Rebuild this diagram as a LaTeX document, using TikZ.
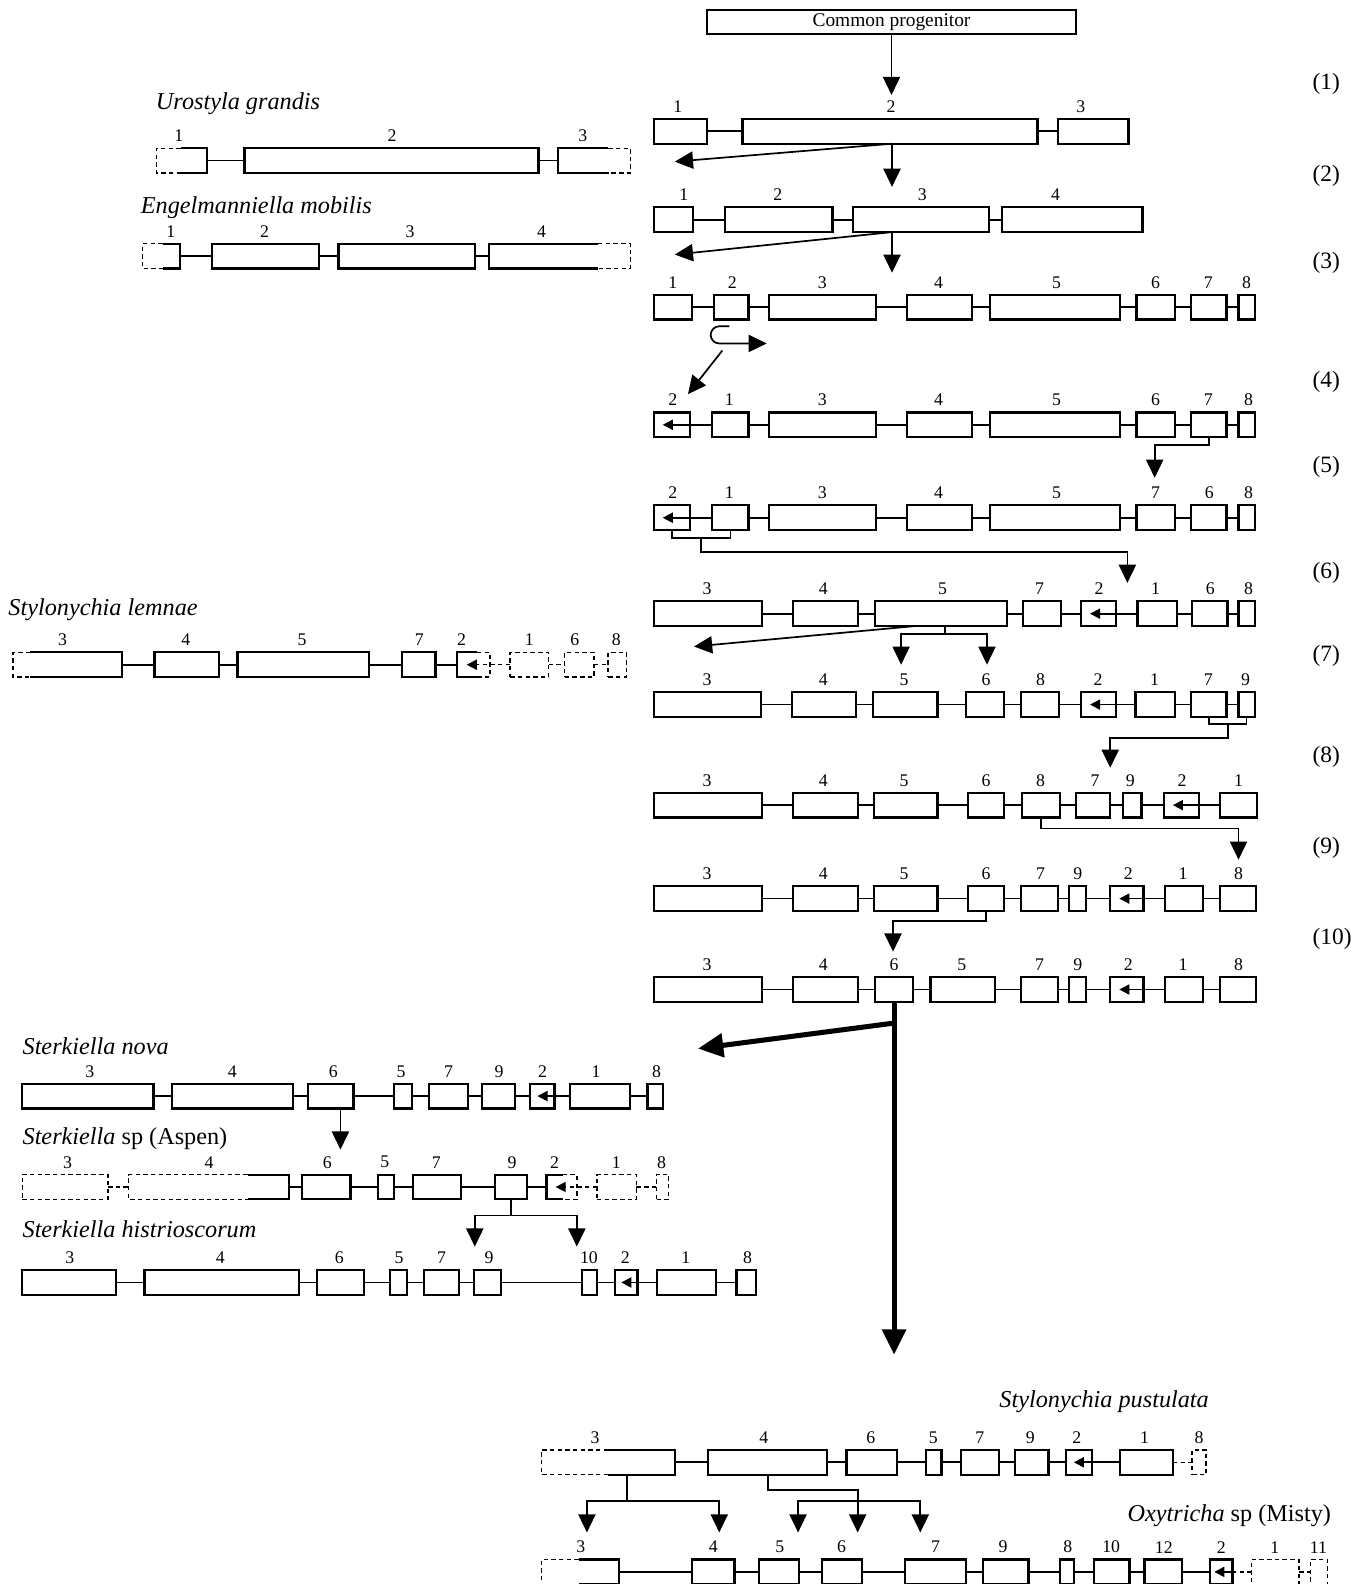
\documentclass[tikz,border=0pt]{standalone}
\usepackage{fontspec}
\setmainfont{Liberation Serif}
\usetikzlibrary{arrows.meta,calc}
\tikzset{
  gene/.style={draw, line width=1.1pt, minimum height=12.25pt, inner sep=0pt, outer sep=0pt},
  gbox/.style={minimum height=12.25pt, inner sep=0pt, outer sep=0pt},
  edge/.style={line width=1.1pt},
  dsh/.style={line width=0.7pt, dash pattern=on 2.2pt off 1.6pt},
  num/.style={font=\fontsize{8.8}{10}\selectfont, inner sep=0pt},
  conn/.style={line width=0.85pt},
  arr/.style={conn, -{Triangle[length=9pt,width=8.5pt]}},
  inarr/.style={conn, -{Triangle[length=5pt,width=5pt]}},
  tarr/.style={line width=2.5pt, -{Triangle[length=12.5pt,width=11.5pt]}},
  sp/.style={font=\fontsize{12}{14}\selectfont\itshape, inner sep=0pt},
  stp/.style={font=\fontsize{11.6}{14}\selectfont, inner sep=0pt, anchor=west},
}
\newcommand\GeneBox[6]{%
  \node[gene, minimum width={(#3-#2)*0.5pt}] (#1) at ({(#2+#3)/2},#4) {};
  \node[num] (#1-l) at (#5,{#4-24.5}) {#6};}
\newcommand\DashBox[6]{%
  \node[gene, dsh, minimum width={(#3-#2)*0.5pt}] (#1) at ({(#2+#3)/2},#4) {};
  \node[num] (#1-l) at (#5,{#4-24.5}) {#6};}
\newcommand\LeftDash[7]{%
  \node[gbox, minimum width={(#4-#2)*0.5pt}] (#1) at ({(#2+#4)/2},#5) {};
  \draw[dsh] (#3,{#5-12.25}) -- (#2,{#5-12.25}) -- (#2,{#5+12.25}) -- (#3,{#5+12.25});
  \draw[edge] (#3,{#5-12.25}) -- (#4,{#5-12.25}) -- (#4,{#5+12.25}) -- (#3,{#5+12.25});
  \node[num] (#1-l) at (#6,{#5-24.5}) {#7};}
\newcommand\RightDash[7]{%
  \node[gbox, minimum width={(#4-#2)*0.5pt}] (#1) at ({(#2+#4)/2},#5) {};
  \draw[edge] (#3,{#5-12.25}) -- (#2,{#5-12.25}) -- (#2,{#5+12.25}) -- (#3,{#5+12.25});
  \draw[dsh] (#3,{#5-12.25}) -- (#4,{#5-12.25}) -- (#4,{#5+12.25}) -- (#3,{#5+12.25});
  \node[num] (#1-l) at (#6,{#5-24.5}) {#7};}
\newcommand\Link[2]{\draw[conn] (#1.east) -- (#2.west);}
\newcommand\DLink[2]{\draw[conn,dsh] (#1.east) -- (#2.west);}
\newcommand\InvArrow[2]{\draw[inarr] (#2.west) -- ([xshift=4.5pt]#1.west);}
\begin{document}
\begin{tikzpicture}[x=0.5pt,y=-0.5pt]
\useasboundingbox (0,0) rectangle (1350,1568);

% common progenitor
\node[gene, line width=1pt, minimum width=182.5pt, minimum height=12pt, font=\fontsize{9.6}{11}\selectfont] (prog) at (882.5,22) {Common progenitor};

% step labels
\node[stp] (st1) at (1299,83) {(1)};
\node[stp] (st2) at (1299,174) {(2)};
\node[stp] (st3) at (1299,260) {(3)};
\node[stp] (st4) at (1299,378) {(4)};
\node[stp] (st5) at (1299,462) {(5)};
\node[stp] (st6) at (1299,567) {(6)};
\node[stp] (st7) at (1299,649) {(7)};
\node[stp] (st8) at (1299,749) {(8)};
\node[stp] (st9) at (1299,839) {(9)};
\node[stp] (st10) at (1299,929) {(10)};

% species labels
\node[sp, anchor=base west] (nU) at (154,108) {Urostyla grandis};
\node[sp, anchor=base west] (nE) at (139,211) {Engelmanniella mobilis};
\node[sp, anchor=base west] (nL) at (8,609) {Stylonychia lemnae};
\node[sp, anchor=base west] (nN) at (22,1044) {Sterkiella nova};
\node[sp, anchor=base west] (nA) at (22,1133) {Sterkiella\upshape\ sp (Aspen)};
\node[sp, anchor=base west] (nH) at (22,1225) {Sterkiella histrioscorum};
\node[sp, anchor=base east] (nP) at (1197,1393) {Stylonychia pustulata};
\node[sp, anchor=base east] (nM) at (1318,1506) {Oxytricha\upshape\ sp (Misty)};

% ---------- row 1
\GeneBox{a1}{647}{700}{130}{671}{1}
\GeneBox{a2}{735}{1027}{130}{882}{2}
\GeneBox{a3}{1047}{1117}{130}{1070}{3}
\Link{a1}{a2}\Link{a2}{a3}
% ---------- row 2
\GeneBox{b1}{647}{686}{217.5}{677}{1}
\GeneBox{b2}{718}{824}{217.5}{770}{2}
\GeneBox{b3}{844}{979}{217.5}{913}{3}
\GeneBox{b4}{992}{1131}{217.5}{1045}{4}
\Link{b1}{b2}\Link{b2}{b3}\Link{b3}{b4}
% ---------- row 3
\GeneBox{c1}{647}{685}{304}{666}{1}
\GeneBox{c2}{707}{741}{304}{725}{2}
\GeneBox{c3}{761}{867}{304}{814}{3}
\GeneBox{c4}{898}{962}{304}{929}{4}
\GeneBox{c5}{980}{1109}{304}{1046}{5}
\GeneBox{c6}{1125}{1163}{304}{1144}{6}
\GeneBox{c7}{1179}{1214}{304}{1196}{7}
\GeneBox{c8}{1226}{1242}{304}{1234}{8}
\Link{c1}{c2}\Link{c2}{c3}\Link{c3}{c4}\Link{c4}{c5}\Link{c5}{c6}\Link{c6}{c7}\Link{c7}{c8}
% ---------- row 4
\GeneBox{d2}{647}{683}{420.5}{666}{2}
\GeneBox{d1}{705}{741}{420.5}{722}{1}
\GeneBox{d3}{761}{867}{420.5}{814}{3}
\GeneBox{d4}{898}{962}{420.5}{929}{4}
\GeneBox{d5}{980}{1109}{420.5}{1046}{5}
\GeneBox{d6}{1125}{1163}{420.5}{1144}{6}
\GeneBox{d7}{1179}{1214}{420.5}{1196}{7}
\GeneBox{d8}{1226}{1242}{420.5}{1236}{8}
\InvArrow{d2}{d1}\Link{d1}{d3}\Link{d3}{d4}\Link{d4}{d5}\Link{d5}{d6}\Link{d6}{d7}\Link{d7}{d8}
% ---------- row 5
\GeneBox{e2}{647}{683}{512.5}{666}{2}
\GeneBox{e1}{705}{741}{512.5}{722}{1}
\GeneBox{e3}{761}{867}{512.5}{814}{3}
\GeneBox{e4}{898}{962}{512.5}{929}{4}
\GeneBox{e5}{980}{1109}{512.5}{1046}{5}
\GeneBox{e7}{1125}{1163}{512.5}{1144}{7}
\GeneBox{e6}{1179}{1214}{512.5}{1197}{6}
\GeneBox{e8}{1226}{1242}{512.5}{1236}{8}
\InvArrow{e2}{e1}\Link{e1}{e3}\Link{e3}{e4}\Link{e4}{e5}\Link{e5}{e7}\Link{e7}{e6}\Link{e6}{e8}
% ---------- row 6
\GeneBox{f3}{647}{754}{607.5}{700}{3}
\GeneBox{f4}{785}{849}{607.5}{815}{4}
\GeneBox{f5}{866}{997}{607.5}{933}{5}
\GeneBox{f7}{1013}{1050}{607.5}{1029}{7}
\GeneBox{f2}{1070}{1105}{607.5}{1088}{2}
\GeneBox{f1}{1126}{1165}{607.5}{1144}{1}
\GeneBox{f6}{1180}{1215}{607.5}{1198}{6}
\GeneBox{f8}{1226}{1242}{607.5}{1236}{8}
\Link{f3}{f4}\Link{f4}{f5}\Link{f5}{f7}\Link{f7}{f2}\InvArrow{f2}{f1}\Link{f1}{f6}\Link{f6}{f8}
% ---------- row 7
\GeneBox{g3}{647}{753}{697.5}{700}{3}
\GeneBox{g4}{784}{847}{697.5}{815}{4}
\GeneBox{g5}{864}{928}{697.5}{895}{5}
\GeneBox{g6}{956}{994}{697.5}{976}{6}
\GeneBox{g8}{1011}{1048}{697.5}{1030}{8}
\GeneBox{g2}{1070}{1105}{697.5}{1087}{2}
\GeneBox{g1}{1124}{1163}{697.5}{1143}{1}
\GeneBox{g7}{1179}{1214}{697.5}{1196}{7}
\GeneBox{g9}{1226}{1242}{697.5}{1233}{9}
\Link{g3}{g4}\Link{g4}{g5}\Link{g5}{g6}\Link{g6}{g8}\Link{g8}{g2}\InvArrow{g2}{g1}\Link{g1}{g7}\Link{g7}{g9}
% ---------- row 8
\GeneBox{h3}{647}{754}{797}{700}{3}
\GeneBox{h4}{785}{849}{797}{815}{4}
\GeneBox{h5}{865}{928}{797}{895}{5}
\GeneBox{h6}{958}{994}{797}{976}{6}
\GeneBox{h8}{1012}{1049}{797}{1030}{8}
\GeneBox{h7}{1065}{1099}{797}{1084}{7}
\GeneBox{h9}{1112}{1130}{797}{1119}{9}
\GeneBox{h2}{1152}{1187}{797}{1170}{2}
\GeneBox{h1}{1208}{1244}{797}{1226}{1}
\Link{h3}{h4}\Link{h4}{h5}\Link{h5}{h6}\Link{h6}{h8}\Link{h8}{h7}\Link{h7}{h9}\Link{h9}{h2}\InvArrow{h2}{h1}
% ---------- row 9
\GeneBox{i3}{647}{754}{889.5}{700}{3}
\GeneBox{i4}{785}{849}{889.5}{815}{4}
\GeneBox{i5}{865}{928}{889.5}{895}{5}
\GeneBox{i6}{958}{994}{889.5}{976}{6}
\GeneBox{i7}{1011}{1047}{889.5}{1030}{7}
\GeneBox{i9}{1058}{1075}{889.5}{1067}{9}
\GeneBox{i2}{1099}{1132}{889.5}{1117}{2}
\GeneBox{i1}{1153}{1191}{889.5}{1171}{1}
\GeneBox{i8}{1208}{1243}{889.5}{1226}{8}
\Link{i3}{i4}\Link{i4}{i5}\Link{i5}{i6}\Link{i6}{i7}\Link{i7}{i9}\Link{i9}{i2}\InvArrow{i2}{i1}\Link{i1}{i8}
% ---------- row 10
\GeneBox{j3}{647}{754}{979.5}{700}{3}
\GeneBox{j4}{785}{849}{979.5}{815}{4}
\GeneBox{j6}{866}{904}{979.5}{885}{6}
\GeneBox{j5}{921}{985}{979.5}{952}{5}
\GeneBox{j7}{1011}{1047}{979.5}{1029}{7}
\GeneBox{j9}{1058}{1075}{979.5}{1067}{9}
\GeneBox{j2}{1099}{1132}{979.5}{1117}{2}
\GeneBox{j1}{1153}{1191}{979.5}{1171}{1}
\GeneBox{j8}{1208}{1243}{979.5}{1226}{8}
\Link{j3}{j4}\Link{j4}{j6}\Link{j6}{j5}\Link{j5}{j7}\Link{j7}{j9}\Link{j9}{j2}\InvArrow{j2}{j1}\Link{j1}{j8}

% ---------- Urostyla grandis
\LeftDash{u1}{155}{179}{205}{159}{177}{1}
\GeneBox{u2}{242}{533}{159}{388}{2}
\RightDash{u3}{552}{602}{624}{159}{577}{3}
\Link{u1}{u2}\Link{u2}{u3}
% ---------- Engelmanniella mobilis
\LeftDash{v1}{141}{161}{178}{253.5}{169}{1}
\GeneBox{v2}{210}{316}{253.5}{262}{2}
\GeneBox{v3}{335}{470}{253.5}{406}{3}
\RightDash{v4}{484}{592}{624}{253.5}{536}{4}
\Link{v1}{v2}\Link{v2}{v3}\Link{v3}{v4}
% ---------- Stylonychia lemnae
\LeftDash{l3}{13}{30}{121}{658}{62}{3}
\GeneBox{l4}{153}{217}{658}{184}{4}
\GeneBox{l5}{235}{365}{658}{299}{5}
\GeneBox{l7}{398}{431}{658}{415}{7}
\RightDash{l2}{452}{472}{485}{658}{457}{2}
\DashBox{l1}{505}{543}{658}{524}{1}
\DashBox{l6}{559}{588}{658}{569}{6}
\DashBox{l8}{602}{620}{658}{610}{8}
\Link{l3}{l4}\Link{l4}{l5}\Link{l5}{l7}\Link{l7}{l2}
\draw[inarr,dsh] (l1.west) -- ([xshift=5pt]l2.west);
\DLink{l1}{l6}\DLink{l6}{l8}
% ---------- Sterkiella nova
\GeneBox{n3}{22}{152}{1085}{89}{3}
\GeneBox{n4}{170}{290}{1085}{230}{4}
\GeneBox{n6}{305}{350}{1085}{330}{6}
\GeneBox{n5}{390}{408}{1085}{397}{5}
\GeneBox{n7}{425}{463}{1085}{444}{7}
\GeneBox{n9}{477}{510}{1085}{494}{9}
\GeneBox{n2}{525}{549}{1085}{537}{2}
\GeneBox{n1}{564}{624}{1085}{590}{1}
\GeneBox{n8}{641}{656}{1085}{650}{8}
\Link{n3}{n4}\Link{n4}{n6}\Link{n6}{n5}\Link{n5}{n7}\Link{n7}{n9}\Link{n9}{n2}
\draw[inarr] (n1.west) -- ([xshift=3.5pt]n2.west);
\Link{n1}{n8}
% ---------- Sterkiella sp (Aspen)
\DashBox{s3}{22}{107}{1175}{67}{3}
\LeftDash{s4}{127}{245}{286}{1175}{207}{4}
\GeneBox{s6}{299}{347}{1175}{324}{6}
\GeneBox{s5}{374}{390}{1175}{381}{5}
\GeneBox{s7}{409}{456}{1175}{432}{7}
\GeneBox{s9}{490}{522}{1175}{507}{9}
\RightDash{s2}{541}{557}{571}{1175}{549}{2}
\DashBox{s1}{591}{630}{1175}{610}{1}
\DashBox{s8}{650}{662}{1175}{655}{8}
\DLink{s3}{s4}\Link{s4}{s6}\Link{s6}{s5}\Link{s5}{s7}\Link{s7}{s9}\Link{s9}{s2}
\draw[inarr,dsh] (s1.west) -- ([xshift=4.5pt]s2.west);
\DLink{s1}{s8}
% ---------- Sterkiella histrioscorum
\GeneBox{t3}{22}{115}{1269.5}{69}{3}
\GeneBox{t4}{143}{296}{1269.5}{218}{4}
\GeneBox{t6}{314}{360}{1269.5}{336}{6}
\GeneBox{t5}{386}{403}{1269.5}{395}{5}
\GeneBox{t7}{420}{454}{1269.5}{437}{7}
\GeneBox{t9}{469}{496}{1269.5}{484}{9}
\GeneBox{t10}{576}{591}{1269.5}{583}{10}
\GeneBox{t2}{609}{631}{1269.5}{619}{2}
\GeneBox{t1}{650}{709}{1269.5}{679}{1}
\GeneBox{t8}{729}{748}{1269.5}{740}{8}
\Link{t3}{t4}\Link{t4}{t6}\Link{t6}{t5}\Link{t5}{t7}\Link{t7}{t9}\Link{t9}{t10}\Link{t10}{t2}
\draw[inarr] (t1.west) -- ([xshift=3pt]t2.west);
\Link{t1}{t8}
% ---------- Stylonychia pustulata
\LeftDash{p3}{536}{602}{668}{1447.5}{589}{3}
\GeneBox{p4}{701}{819}{1447.5}{756}{4}
\GeneBox{p6}{838}{888}{1447.5}{862}{6}
\GeneBox{p5}{917}{932}{1447.5}{924}{5}
\GeneBox{p7}{951}{989}{1447.5}{970}{7}
\GeneBox{p9}{1005}{1038}{1447.5}{1020}{9}
\GeneBox{p2}{1055}{1081}{1447.5}{1066}{2}
\GeneBox{p1}{1109}{1161}{1447.5}{1133}{1}
\DashBox{p8}{1180}{1194}{1447.5}{1187}{8}
\Link{p3}{p4}\Link{p4}{p6}\Link{p6}{p5}\Link{p5}{p7}\Link{p7}{p9}\Link{p9}{p2}
\draw[inarr] (p1.west) -- ([xshift=4pt]p2.west);
\DLink{p1}{p8}
% ---------- Oxytricha sp (Misty)
\LeftDash{m3}{536}{573}{613}{1556}{575}{3}
\GeneBox{m4}{685}{727}{1556}{706}{4}
\GeneBox{m5}{751}{791}{1556}{772}{5}
\GeneBox{m6}{814}{853}{1556}{833}{6}
\GeneBox{m7}{896}{956}{1556}{926}{7}
\GeneBox{m9}{973}{1018}{1556}{993}{9}
\GeneBox{m8}{1049}{1063}{1556}{1057}{8}
\GeneBox{m10}{1083}{1118}{1556}{1100}{10}
\GeneBox{m12}{1133}{1170}{1556}{1152}{12}
\GeneBox{m2}{1198}{1220}{1556}{1209}{2}
\DashBox{m1}{1239}{1286}{1556}{1262}{1}
\DashBox{m11}{1297}{1314}{1556}{1305}{11}
\Link{m3}{m4}\Link{m4}{m5}\Link{m5}{m6}\Link{m6}{m7}\Link{m7}{m9}\Link{m9}{m8}\Link{m8}{m10}\Link{m10}{m12}\Link{m12}{m2}
\draw[conn,dsh] (m1.west) -- (m2.east);
\draw[inarr] (m2.east) -- ([xshift=2pt]m2.west);
\DLink{m1}{m11}

% ---------- arrows, main lineage
\coordinate (q0) at (882.5,94);
\draw[arr] (prog.south) -- (q0);
\coordinate (q1) at (883,185);
\coordinate (q1l) at (668,160);
\draw[arr] (a2.south -| q1) -- (q1);
\draw[arr] (a2.south -| q1) -- (q1l);
\coordinate (q2) at (883,270);
\coordinate (q2l) at (668,252);
\draw[arr] (b3.south -| q2) -- (q2);
\draw[arr] (b3.south -| q2) -- (q2l);
% inversion symbol
\draw[arr] (722,323) -- (712,323) arc[start angle=270, end angle=90, radius=8.5] -- (759,340);
\coordinate (q3s) at (715,347);
\draw[arr] (q3s) -- ([xshift=8pt,yshift=9pt]d2.north);
% 4 -> 5
\coordinate (q4) at (1143,473);
\draw[arr] (d7.south) -- ++(0,8) -| (q4);
% 5 -> 6
\draw[conn] (e2.south) -- ++(0,8) -| (e1.south);
\coordinate (q5) at (1116,577);
\draw[arr] ($(e2.south)!0.5!(e1.south)+(0,8)$) -- ++(0,14) -| (q5);
% 6 -> 7
\draw[conn] ([xshift=2pt]f5.south) -- ++(0,8) coordinate (q6m);
\coordinate (q6a) at (892,658);
\coordinate (q6b) at (977,658);
\coordinate (q6c) at (687,640);
\draw[arr] (q6m) -| (q6a);
\draw[arr] (q6m) -| (q6b);
\draw[arr] ([xshift=-13pt]f5.south) -- (q6c);
% 7 -> 8
\draw[conn] (g7.south) -- ++(0,7) -| (g9.south);
\coordinate (q7) at (1099,760);
\draw[arr] ($(g7.south)!0.5!(g9.south)+(0,7)$) -- ++(0,14) -| (q7);
% 8 -> 9
\coordinate (q8) at (1226,851);
\draw[arr] (h8.south) -- ++(0,11) -| (q8);
% 9 -> 10
\coordinate (q9) at (884,942);
\draw[arr] (i6.south) -- ++(0,10) -| (q9);
% 10 -> descendants
\coordinate (q10) at (885,1341);
\coordinate (q10l) at (691,1038);
\draw[tarr] (j6.south) -- (q10);
\draw[tarr] ($(j6.south)+(0,21)$) -- (q10l);
% nova -> aspen
\coordinate (qn) at (337,1138);
\draw[arr] (n6.south -| qn) -- (qn);
% aspen -> histrioscorum
\draw[conn] (s9.south) -- ++(0,16) coordinate (qs);
\coordinate (qsa) at (470,1234);
\coordinate (qsb) at (571,1234);
\draw[arr] (qs) -| (qsa);
\draw[arr] (qs) -| (qsb);
% pustulata -> misty
\coordinate (pb1) at (621,1486);
\coordinate (pb2) at (849,1486);
\coordinate (qp3) at (581,1517);
\coordinate (qp4) at (712,1517);
\coordinate (qp5) at (790,1517);
\coordinate (qp6) at (849,1517);
\coordinate (qp7) at (911,1517);
\draw[conn] (p3.south -| pb1) -- (pb1);
\draw[arr] (pb1) -| (qp3);
\draw[arr] (pb1) -| (qp4);
\draw[arr] (p4.south) -- ++(0,15) -| (qp6);
\draw[arr] (pb2) -| (qp5);
\draw[arr] (pb2) -| (qp7);
\end{tikzpicture}
\end{document}
